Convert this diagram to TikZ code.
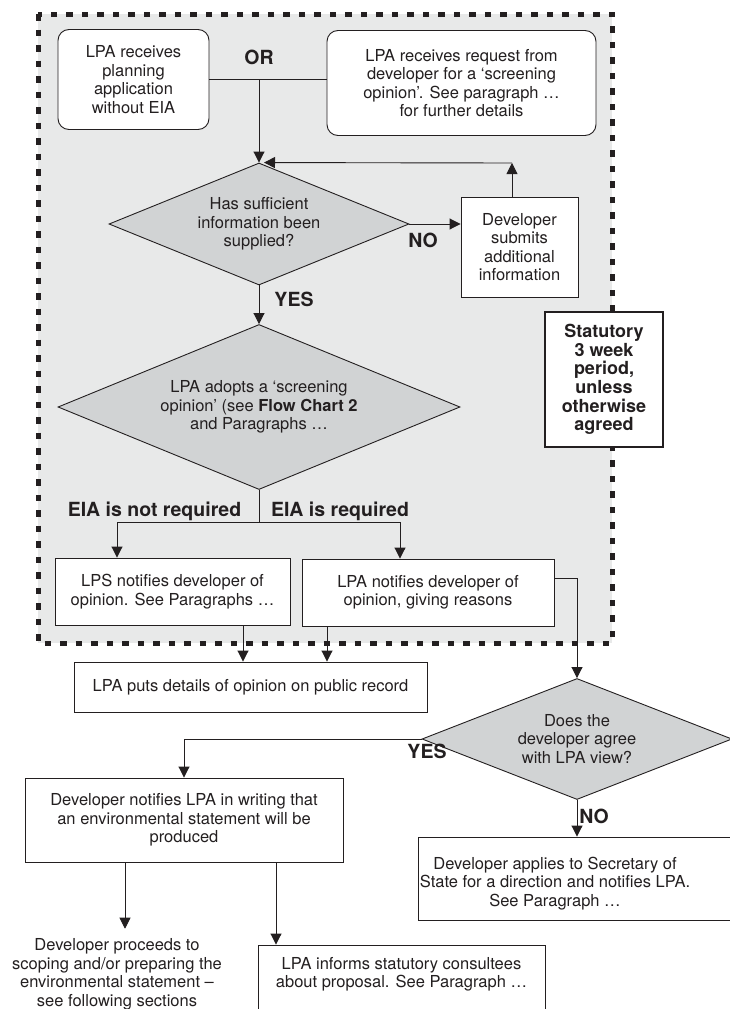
\documentclass[tikz,border=0pt]{standalone}
\usepackage{fontspec}
\setmainfont{TeX Gyre Heros}
\usetikzlibrary{shapes.geometric,arrows.meta}
\definecolor{ink}{HTML}{231F20}
\definecolor{panel}{HTML}{E8E9E9}
\definecolor{decis}{HTML}{D1D3D4}
\begin{document}
\begin{tikzpicture}[x=1pt,y=-1pt,
  txt/.style={font=\fontsize{16.5}{18.5}\selectfont, text=ink, align=center, inner sep=0pt},
  box/.style={txt, draw=ink, fill=white, line width=0.9pt},
  rbox/.style={box, rounded corners=11pt},
  decision/.style={txt, diamond, draw=ink, fill=decis, line width=0.9pt, inner sep=0pt},
  tag/.style={font=\fontsize{19.5}{24}\selectfont\bfseries, text=ink, inner sep=0pt},
  conn/.style={draw=ink, line width=0.9pt},
  arr/.style={conn, -{Triangle[width=11pt,length=11pt]}},
]
\useasboundingbox (0,0) rectangle (730,1009);

% screening period panel
\fill[panel] (38,14) rectangle (612,643);
\draw[ink, line width=5pt, dash pattern=on 6.5pt off 9pt] (38,14) rectangle (612,643);

% entry points
\node[rbox, minimum width=151pt, minimum height=100pt] (b1) at (133.5,79.5)
  {LPA receives\\planning\\application\\without EIA};
\node[rbox, minimum width=269pt, minimum height=105pt] (b2) at (461.5,83)
  {LPA receives request from\\developer for a ‘screening\\opinion’. See paragraph …\\for further details};
\node[tag] (or) at (259,57) {OR};
\coordinate (j1) at (259,79.5);

% information check
\node[decision, shape aspect=2.46, minimum width=300pt, minimum height=122pt] (q1) at (259,224)
  {Has sufficient\\information been\\supplied?};
\node[box, minimum width=117pt, minimum height=100pt] (dev) at (519.5,247)
  {Developer\\submits\\additional\\information};
\node[tag] (no1) at (423,240) {NO};
\coordinate (loop) at (512,163);
\node[tag] (yes1) at (294,299) {YES};

% screening opinion
\node[decision, shape aspect=2.44, minimum width=402pt, minimum height=165pt] (q2) at (259,407)
  {LPA adopts a ‘screening\\opinion’ (see \textbf{Flow Chart 2}\\and Paragraphs …};
\coordinate (split) at (259,522);
\node[tag, anchor=base] (notreq) at (154.5,516) {EIA is not required};
\node[tag, anchor=base] (req) at (340,516) {EIA is required};

\node[box, minimum width=235pt, minimum height=67pt] (nl) at (172.5,591.5)
  {LPS notifies developer of\\opinion. See Paragraphs …};
\node[box, minimum width=252pt, minimum height=67pt] (nr) at (428,592.5)
  {LPA notifies developer of\\opinion, giving reasons};

% statutory period note
\node[box, line width=2pt, font=\fontsize{18}{18.6}\selectfont\bfseries,
      minimum width=118pt, minimum height=135pt] (stat) at (604,379.5)
  {Statutory\\3 week\\period,\\unless\\otherwise\\agreed};

% public record
\node[box, minimum width=353pt, minimum height=50pt] (pub) at (250.5,687)
  {LPA puts details of opinion on public record};

% developer response
\node[decision, shape aspect=2.56, minimum width=310pt, minimum height=121pt] (q3) at (577,739)
  {Does the\\developer agree\\with LPA view?};
\node[tag] (yes2) at (427,751) {YES};
\node[tag] (no2) at (594,816) {NO};
\node[box, minimum width=318pt, minimum height=84pt] (devn) at (184,820)
  {Developer notifies LPA in writing that\\an environmental statement will be\\produced};
\node[box, minimum width=322pt, minimum height=83pt] (sos) at (579,878.5) {};
\node[txt] (sostext) at (555,883.5)
  {Developer applies to Secretary of\\State for a direction and notifies LPA.\\See Paragraph …};

% next steps
\node[txt] (proc) at (117,974.5)
  {Developer proceeds to\\scoping and/or preparing the\\environmental statement –\\see following sections};
\node[box, minimum width=287pt, minimum height=90pt] (lpa) at (401.5,990) {};
\node[txt] (lpatext) at (401.5,974)
  {LPA informs statutory consultees\\about proposal. See Paragraph …};

% column positions for connectors
\coordinate (xl) at (117,0);
\coordinate (xr) at (400,0);
\coordinate (xa) at (243,0);
\coordinate (xb) at (327,0);
\coordinate (ya) at (0,578);
\coordinate (xc) at (125,0);
\coordinate (xd) at (276,0);

% connectors
\draw[conn] (b1.east) -- (b1.east -| b2.west);
\draw[arr] (j1) -- (q1.north);
\draw[arr] (q1.east) -- (q1.east -| dev.west);
\draw[arr] (dev.north -| loop) -- (loop);
\draw[arr] (loop) -- ([xshift=5pt]q1.north);
\draw[arr] (q1.south) -- (q2.north);
\draw[conn] (q2.south) -- (split);
\draw[arr] (split) -| (nl.north -| xl);
\draw[arr] (split) -| (nr.north -| xr);
\draw[arr] (nl.south -| xa) -- (pub.north -| xa);
\draw[arr] (nr.south -| xb) -- (pub.north -| xb);
\draw[arr] (nr.east |- ya) -| (q3.north);
\draw[arr] (q3.west) -| (devn.north);
\draw[arr] (q3.south) -- (q3.south |- sos.north);
\draw[arr, shorten >=10pt] (devn.south -| xc) -- (proc.north -| xc);
\draw[arr] (devn.south -| xd) -- (lpa.north -| xd);
\end{tikzpicture}
\end{document}
